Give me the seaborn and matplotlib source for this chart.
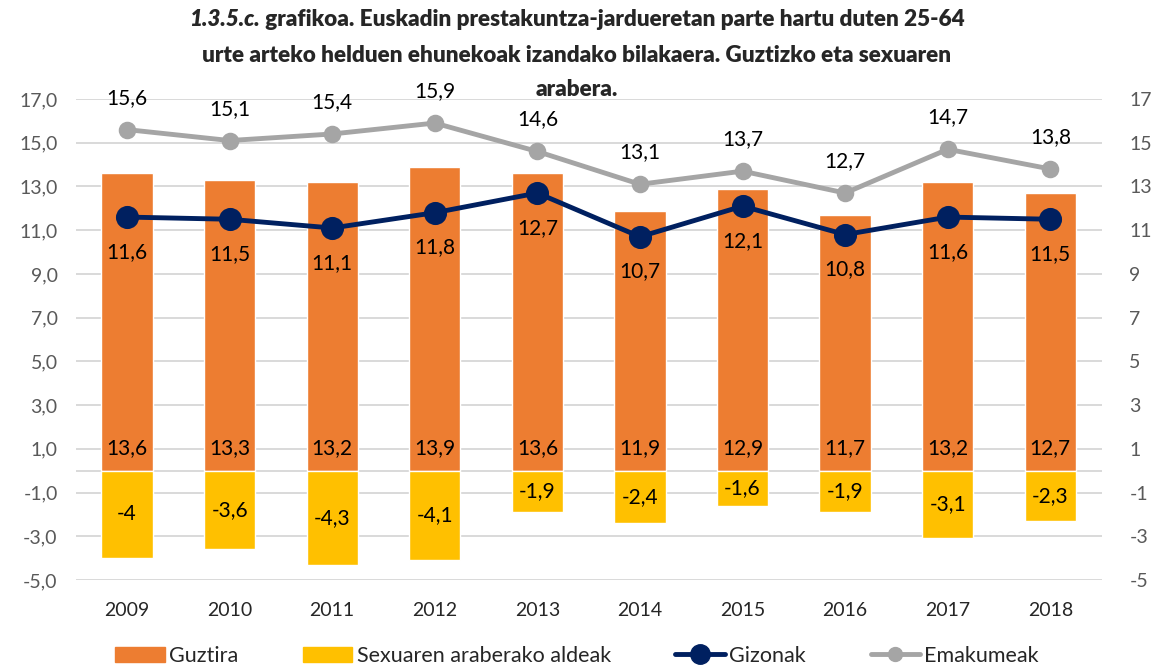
import seaborn as sns
import pandas as pd
import matplotlib
matplotlib.use('Agg')
import matplotlib.pyplot as plt
from matplotlib.patches import Patch
from matplotlib.lines import Line2D

sns.set_style('white')
plt.rcParams['font.family'] = ['Lato', 'DejaVu Sans']

# Data
years = ['2009', '2010', '2011', '2012', '2013', '2014', '2015', '2016', '2017', '2018']
guztira = [13.6, 13.3, 13.2, 13.9, 13.6, 11.9, 12.9, 11.7, 13.2, 12.7]
aldeak = [-4, -3.6, -4.3, -4.1, -1.9, -2.4, -1.6, -1.9, -3.1, -2.3]
gizonak = [11.6, 11.5, 11.1, 11.8, 12.7, 10.7, 12.1, 10.8, 11.6, 11.5]
emakumeak = [15.6, 15.1, 15.4, 15.9, 14.6, 13.1, 13.7, 12.7, 14.7, 13.8]

c_orange = '#ED7D31'
c_yellow = '#FFC000'
c_navy = '#002060'
c_gray = '#A5A5A5'
tick_gray = '#595959'

df = pd.DataFrame({'Urtea': years, 'Guztira': guztira, 'Aldeak': aldeak,
                   'Gizonak': gizonak, 'Emakumeak': emakumeak})


def fmt(v):
    if float(v).is_integer():
        return str(int(v))
    return f'{v:.1f}'.replace('.', ',')


fig = plt.figure(figsize=(11.54, 6.68), dpi=100)
ax = fig.add_axes([0.0656, 0.1317, 0.889, 0.7201])

# gridlines
for y in list(range(-5, 18, 2)) + [0]:
    ax.axhline(y, color='#D9D9D9', lw=1.4, zorder=0)

sns.barplot(data=df, x='Urtea', y='Guztira', color=c_orange, width=0.5,
            saturation=1, ax=ax, zorder=2)
sns.barplot(data=df, x='Urtea', y='Aldeak', color=c_yellow, width=0.5,
            saturation=1, ax=ax, zorder=2)
sns.pointplot(data=df, x='Urtea', y='Emakumeak', color=c_gray, markers='o',
              markersize=10, linewidth=3.5, ax=ax, zorder=3)
sns.pointplot(data=df, x='Urtea', y='Gizonak', color=c_navy, markers='o',
              markersize=14, linewidth=3.5, ax=ax, zorder=4)

lab_kw = dict(ha='center', fontsize=15, color='black', zorder=5)
for i in range(len(years)):
    ax.annotate(fmt(guztira[i]), (i, 0), xytext=(0, 16), textcoords='offset points',
                va='center', **lab_kw)
    ax.annotate(fmt(aldeak[i]), (i, aldeak[i] / 2), va='center', **lab_kw)
    ax.annotate(fmt(emakumeak[i]), (i, emakumeak[i]), xytext=(0, 23),
                textcoords='offset points', va='center', **lab_kw)
    ax.annotate(fmt(gizonak[i]), (i, gizonak[i]), xytext=(0, -25),
                textcoords='offset points', va='center', **lab_kw)

ax.set_xlim(-0.5, len(years) - 0.5)
ax.set_ylim(-5, 17)
ticks = list(range(-5, 18, 2))
ax.set_yticks(ticks)
ax.set_yticklabels([f'{t:.1f}'.replace('.', ',') for t in ticks])
ax.set_xlabel('')
ax.set_ylabel('')
ax.tick_params(axis='y', length=0, labelsize=14, colors=tick_gray, pad=13)
ax.tick_params(axis='x', length=0, labelsize=14, colors='#262626', pad=16)
for s in ax.spines.values():
    s.set_visible(False)

ax2 = ax.twinx()
ax2.set_ylim(-5, 17)
ax2.set_yticks(ticks)
ax2.set_yticklabels([str(t) for t in ticks])
ax2.tick_params(axis='y', length=0, labelsize=14, colors=tick_gray, pad=20)
for s in ax2.spines.values():
    s.set_visible(False)

# title (first part bold italic)
fig.canvas.draw()
renderer = fig.canvas.get_renderer()
tsize = 16.2
part1 = '1.3.5.c.'
part2 = ' grafikoa. Euskadin prestakuntza-jardueretan parte hartu duten 25-64'
t1 = fig.text(0, 0, part1, fontsize=tsize, fontweight='heavy', style='italic')
t2 = fig.text(0, 0, part2, fontsize=tsize, fontweight='heavy')
w1 = t1.get_window_extent(renderer).width
w2 = t2.get_window_extent(renderer).width
W = fig.bbox.width
x0 = (W / 2 - (w1 + w2) / 2) / W
ytop = 1 - 20 / 668
t1.set_position((x0, ytop))
t1.set_va('center')
t2.set_position((x0 + w1 / W, ytop))
t2.set_va('center')
fig.text(0.5, 1 - 55 / 668,
         'urte arteko helduen ehunekoak izandako bilakaera. Guztizko eta sexuaren',
         fontsize=tsize, fontweight='heavy', ha='center', va='center')
fig.text(0.5, 1 - 90 / 668, 'arabera.', fontsize=tsize, fontweight='heavy',
         ha='center', va='center')

handles = [Patch(color=c_orange, label='Guztira'),
           Patch(color=c_yellow, label='Sexuaren araberako aldeak'),
           Line2D([0], [0], color=c_navy, lw=3.5, marker='o', markersize=14, label='Gizonak'),
           Line2D([0], [0], color=c_gray, lw=3.5, marker='o', markersize=10, label='Emakumeak')]
fig.legend(handles=handles, loc='center', bbox_to_anchor=(0.5, 1 - 656 / 668),
           ncol=4, frameon=False, fontsize=15.5, handlelength=2.3,
           handletextpad=0.2, columnspacing=3.0)

plt.savefig('out.png', dpi=100)
